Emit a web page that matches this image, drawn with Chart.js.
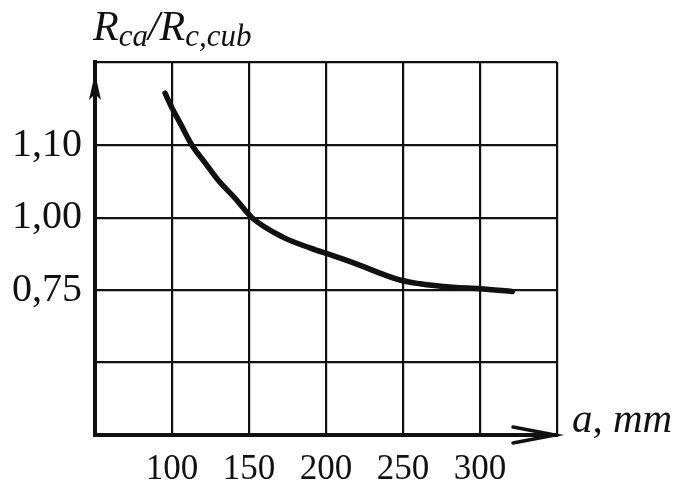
<!DOCTYPE html>
<html><head><meta charset="utf-8">
<script src="https://cdn.jsdelivr.net/npm/chart.js@4"></script>
<style>html,body{margin:0;padding:0;background:#fff;} #wrap{width:679px;height:483px;}</style>
</head><body><div id="wrap"><canvas id="c" width="679" height="483"></canvas></div>
<script>
// ---- data ----
const aValues = [95.5, 100.6, 105.2, 113, 121.4, 129.9, 140.9, 152, 172, 190, 204, 217.5, 248, 261, 282.5, 300, 321];          // a, mm
const ratioValues = [1.172, 1.149, 1.131, 1.10, 1.076, 1.052, 1.027, 1.00, 0.933, 0.895, 0.870, 0.845, 0.785, 0.772, 0.76, 0.755, 0.745]; // Rca/Rc,cub
const xTickValues = [100, 150, 200, 250, 300];
const xTickLabels = ['100', '150', '200', '250', '300'];
const yTickValues = [0.75, 1.00, 1.10];
const yTickLabels = ['0,75', '1,00', '1,10'];
const yTickRows = [2, 3, 4];          // grid rows carrying the (non-uniform) ratio labels
const yRows = [0, 1, 2, 3, 4, 5.15];  // horizontal grid rows of the drawing
const xMin = 50, xMax = 350, yMax = 5.15;

// piecewise-linear map from ratio value to grid row (the printed axis is non-uniform)
function toRow(v) {
  const n = yTickValues.length;
  let i = 0;
  if (v >= yTickValues[n - 1]) i = n - 2;
  else if (v > yTickValues[0]) { while (v > yTickValues[i + 1]) i++; }
  const v0 = yTickValues[i], v1 = yTickValues[i + 1], r0 = yTickRows[i], r1 = yTickRows[i + 1];
  return r0 + (v - v0) / (v1 - v0) * (r1 - r0);
}

const INK = '#111';
const SERIF = '"Liberation Serif", "DejaVu Serif", serif';

const decor = {
  id: 'decor',
  afterDraw(chart) {
    const ctx = chart.ctx, a = chart.chartArea;
    ctx.save();
    ctx.fillStyle = INK; ctx.strokeStyle = INK;
    // y arrow
    ctx.beginPath();
    ctx.moveTo(a.left, a.top + 11);
    ctx.lineTo(a.left - 6, a.top + 38);
    ctx.lineTo(a.left, a.top + 32);
    ctx.lineTo(a.left + 6, a.top + 38);
    ctx.closePath(); ctx.fill();
    // x arrow
    ctx.lineWidth = 3.5; ctx.lineCap = 'round';
    ctx.beginPath();
    ctx.moveTo(a.right - 44, a.bottom - 8);
    ctx.lineTo(a.right - 2, a.bottom);
    ctx.lineTo(a.right - 44, a.bottom + 8);
    ctx.stroke();
    // y title  R_ca / R_c,cub
    ctx.textBaseline = 'alphabetic'; ctx.textAlign = 'left';
    let x = a.left - 2;
    const base = 40;
    const big = 'italic 42px ' + SERIF, small = 'italic 31px ' + SERIF;
    const parts = [['R', big, 0], ['ca', small, 6], ['/', big, 0], ['R', big, 0], ['c,cub', small, 6]];
    for (const [t, f, dy] of parts) {
      ctx.font = f; ctx.fillText(t, x, base + dy); x += ctx.measureText(t).width;
    }
    // x title
    ctx.font = 'italic 41px ' + SERIF;
    ctx.fillText('a, mm', a.right + 15, a.bottom - 3);
    ctx.restore();
  }
};

new Chart(document.getElementById('c'), {
  type: 'line',
  data: {
    datasets: [{
      data: aValues.map((x, i) => ({ x: x, y: toRow(ratioValues[i]) })),
      borderColor: INK, borderWidth: 5.5, pointRadius: 0, fill: false,
      cubicInterpolationMode: 'monotone', borderCapStyle: 'round'
    }]
  },
  options: {
    responsive: false, animation: false,
    layout: { padding: { top: 62, right: 122, left: 0, bottom: 0 } },
    plugins: { legend: { display: false }, tooltip: { enabled: false } },
    scales: {
      x: {
        type: 'linear', min: xMin, max: xMax,
        afterBuildTicks: s => { s.ticks = [xMin, ...xTickValues, xMax].map(v => ({ value: v })); },
        afterFit: s => { s.height = 48; },
        ticks: {
          autoSkip: false, maxRotation: 0, padding: 14, color: INK,
          font: { family: SERIF, size: 35 },
          callback: v => { const i = xTickValues.indexOf(v); return i >= 0 ? xTickLabels[i] : ''; }
        },
        grid: { color: INK, lineWidth: 2.2, drawTicks: false },
        border: { color: INK, width: 4 }
      },
      y: {
        type: 'linear', min: 0, max: yMax,
        afterBuildTicks: s => { s.ticks = yRows.map(v => ({ value: v })); },
        afterFit: s => { s.width = 95; },
        ticks: {
          autoSkip: false, padding: 13, color: INK,
          font: { family: SERIF, size: 40 },
          callback: v => { const i = yTickRows.indexOf(v); return i >= 0 ? yTickLabels[i] : ''; }
        },
        grid: { color: INK, lineWidth: 2.2, drawTicks: false },
        border: { color: INK, width: 4 }
      }
    }
  },
  plugins: [decor]
});
</script></body></html>
